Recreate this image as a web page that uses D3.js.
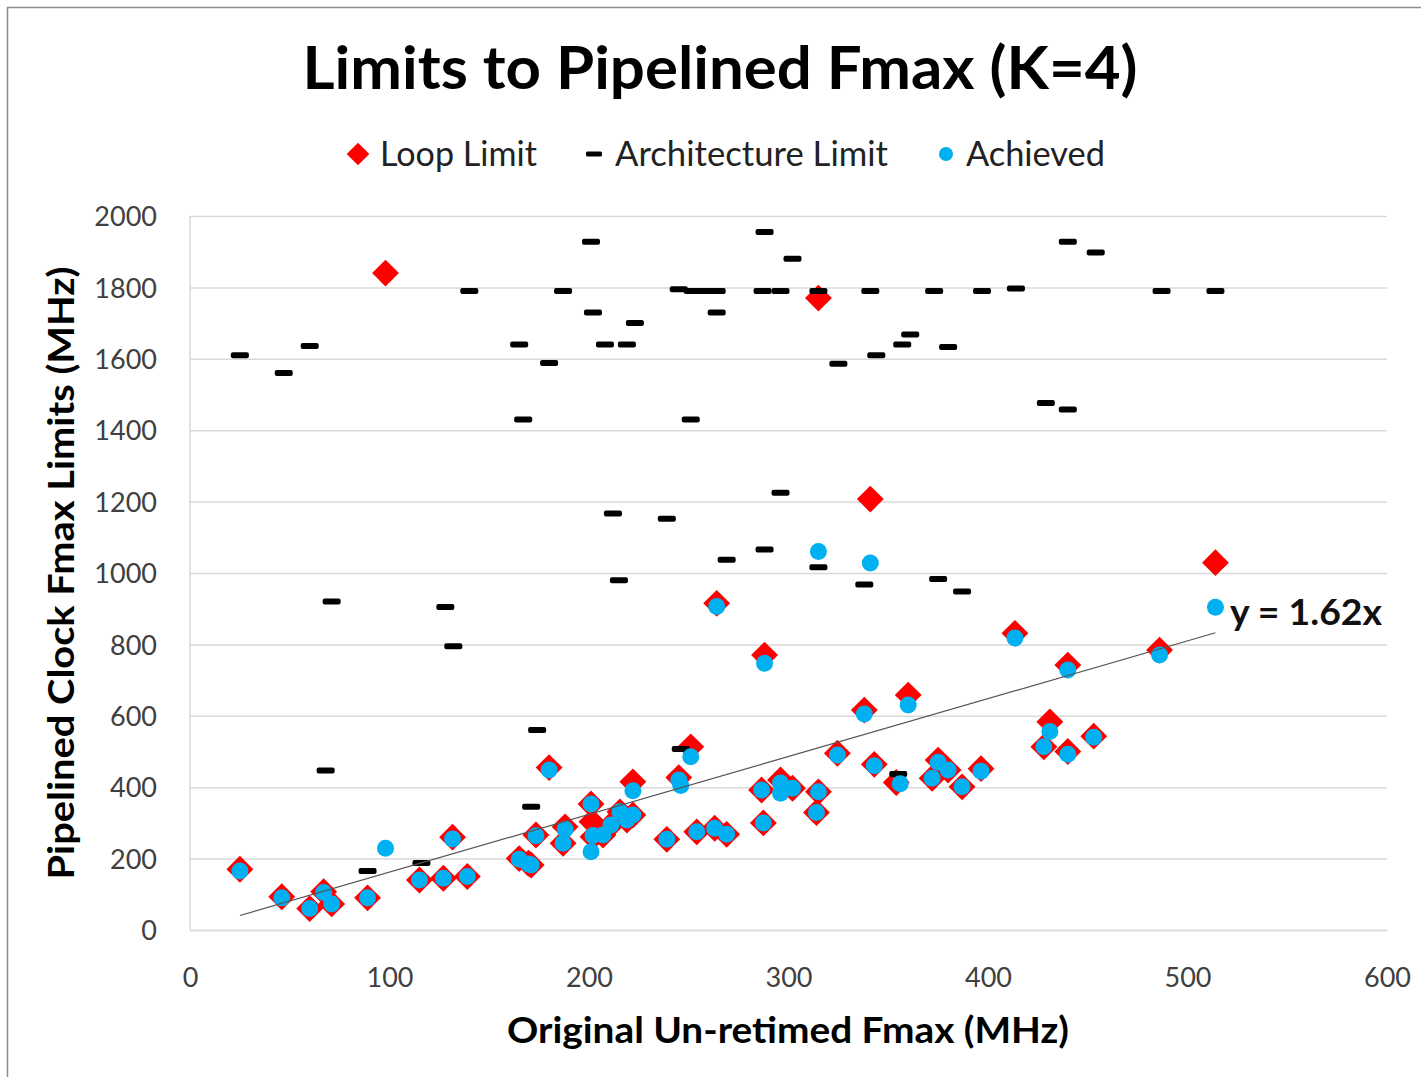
<!DOCTYPE html>
<html>
<head>
<meta charset="utf-8">
<script src="https://cdn.jsdelivr.net/npm/d3@7"></script>
<style>
  html, body { margin: 0; padding: 0; background: #fff; }
  svg { display: block; }
  text { font-family: Lato, "Open Sans", sans-serif; }
</style>
</head>
<body>
<svg id="chart" width="1421" height="1077"></svg>
<script>
// ---- Data ----
const chartTitle = "Limits to Pipelined Fmax (K=4)";
const xTitle = "Original Un-retimed Fmax (MHz)";
const yTitle = "Pipelined Clock Fmax Limits (MHz)";
const seriesNames = ["Loop Limit", "Architecture Limit", "Achieved"];
const xTicks = [0, 100, 200, 300, 400, 500, 600];
const yTicks = [0, 200, 400, 600, 800, 1000, 1200, 1400, 1600, 1800, 2000];
const trendSlope = 1.62;
const trendRange = [25, 514];
const trendLabel = "y = 1.62x";

// Loop Limit: [original Fmax, limit]
const loopLimit = [
  [25,170],[46,93],[60,60],[67,107],[71,73],[89,90],[98,1840],[115,140],[127,145],[139,150],
  [131.6,260],[165,200],[169.6,187],[171,182],[173.4,266],[180,455],[187,243],[188,289],
  [201,353],[201.5,303],[202,261],[207,266],[211,294],[215.5,331],[219,308],[222,322],[222,415],
  [239,254],[245,427],[251,513],[254,275],[263,285],[264,915],[269,268],[286.5,392],[287.4,300],
  [288,770],[296,420],[302,397],[314,329],[315,387],[315,1770],[324.5,495],[338,616],[341,1207],
  [343,464],[354,413],[360,658],[372,425],[375,476],[380,448],[387,401],[396.5,452],[413.5,831],
  [428,513],[431,583],[440,742],[440,500],[453,543],[486,784],[514,1029]
];

// Architecture Limit
const archLimit = [
  [25,1610],[47,1560],[60,1636],[68,447],[71,920],[89,165],[116,188],[128,905],[132,795],
  [140,1790],[165,1640],[167,1430],[171,345],[174,560],[180,1588],[187,1790],[201,1928],
  [202,1730],[208,1640],[212,1167],[215,980],[219,1640],[223,1700],[239,1152],[245,1795],
  [246,507],[251,1430],[252,1790],[258,1790],[264,1790],[264,1730],[269,1037],[287,1790],
  [288,1955],[288,1066],[296,1790],[296,1225],[302,1880],[315,1790],[315,1016],[325,1586],
  [338,968],[341,1790],[344,1610],[355,437],[357,1640],[361,1668],[373,1790],[375,983],
  [380,1633],[387,948],[397,1790],[414,1797],[429,1476],[440,1928],[440,1458],[454,1898],
  [487,1790],[514,1790]
];

// Achieved
const achieved = [
  [25,165],[46,90],[60,60],[67,105],[71,73],[89,90],[98,229],[115,140],[127,145],[139,150],
  [131.6,255],[165,198],[169.6,185],[171,182],[173.4,264],[180,448],[187,243],[188,282],
  [201,353],[201,219],[202,265],[207,266],[211,294],[215.5,331],[219,308],[222,322],[222,390],
  [239,254],[245,420],[246,405],[251,485],[254,275],[263,285],[264,906],[269,268],[286.5,392],
  [287.4,300],[288,747],[296,412],[296,383],[302,397],[314,329],[315,387],[315,1060],[324.5,490],
  [338,605],[341,1028],[343,460],[356,410],[360,630],[372,425],[375,470],[380,448],[387,401],
  [396.5,445],[413.5,818],[428,513],[431,556],[440,728],[440,492],[453,540],[486,770],[514,904]
];

// ---- Layout ----
const svg = d3.select("#chart");
const plot = { left: 190, right: 1387, top: 216, bottom: 930 };
const x = d3.scaleLinear().domain([0, 600]).range([plot.left, plot.right]);
const y = d3.scaleLinear().domain([0, 2000]).range([plot.bottom, plot.top]);

const RED = "#FF0000", BLUE = "#00B0F0", BLACK = "#000000";
const GRID = "#D9D9D9", LABEL = "#404040";

// frame
svg.append("line").attr("x1", 7.5).attr("x2", 7.5).attr("y1", 7).attr("y2", 1077)
  .attr("stroke", "#8c8c8c").attr("stroke-width", 1.5);
svg.append("line").attr("x1", 7).attr("x2", 1421).attr("y1", 7.5).attr("y2", 7.5)
  .attr("stroke", "#8c8c8c").attr("stroke-width", 1.5);

// title
svg.append("text").attr("x", 720).attr("y", 89).attr("text-anchor", "middle")
  .attr("font-size", 60).attr("font-weight", 700).attr("fill", "#000")
  .attr("textLength", 835).attr("lengthAdjust", "spacingAndGlyphs")
  .text(chartTitle);

// gridlines (y axis)
const yAxis = d3.axisLeft(y).tickValues(yTicks).tickSize(-(plot.right - plot.left)).tickPadding(33)
  .tickFormat(d3.format("d"));
const gy = svg.append("g").attr("transform", `translate(${plot.left},0)`).call(yAxis);
gy.select(".domain").remove();
gy.selectAll(".tick line").attr("stroke", GRID).attr("stroke-width", 1.5);
gy.selectAll(".tick text").attr("fill", LABEL).attr("font-size", 27)
  .attr("font-family", "Lato, sans-serif").attr("dy", "0.36em");

// left axis line
svg.append("line").attr("x1", plot.left).attr("x2", plot.left)
  .attr("y1", plot.top).attr("y2", plot.bottom).attr("stroke", GRID).attr("stroke-width", 1.5);

// x axis
const xAxis = d3.axisBottom(x).tickValues(xTicks).tickSize(0).tickPadding(38).tickFormat(d3.format("d"));
const gx = svg.append("g").attr("transform", `translate(0,${plot.bottom})`).call(xAxis);
gx.select(".domain").attr("stroke", GRID).attr("stroke-width", 1.5);
gx.selectAll(".tick text").attr("fill", LABEL).attr("font-size", 27)
  .attr("font-family", "Lato, sans-serif");

// axis titles
svg.append("text").attr("x", 788).attr("y", 1043).attr("text-anchor", "middle")
  .attr("font-size", 36).attr("font-weight", 700).attr("fill", "#000")
  .attr("textLength", 562).attr("lengthAdjust", "spacingAndGlyphs")
  .text(xTitle);
svg.append("text").attr("transform", "translate(74,573) rotate(-90)").attr("text-anchor", "middle")
  .attr("font-size", 36).attr("font-weight", 700).attr("fill", "#000")
  .attr("textLength", 613).attr("lengthAdjust", "spacingAndGlyphs")
  .text(yTitle);

// symbols
const diamond = d3.symbol().type(d3.symbolSquare).size(19 * 19);
const marks = svg.append("g");

// Loop limit diamonds
marks.append("g").selectAll("path").data(loopLimit).join("path")
  .attr("d", diamond)
  .attr("transform", d => `translate(${x(d[0])},${y(d[1])}) rotate(45)`)
  .attr("fill", RED);

// Architecture limit dashes
marks.append("g").selectAll("rect").data(archLimit).join("rect")
  .attr("x", d => x(d[0]) - 9).attr("y", d => y(d[1]) - 3)
  .attr("width", 18).attr("height", 6).attr("rx", 2)
  .attr("fill", BLACK);

// Achieved circles
marks.append("g").selectAll("circle").data(achieved).join("circle")
  .attr("cx", d => x(d[0])).attr("cy", d => y(d[1])).attr("r", 8.5)
  .attr("fill", BLUE);

// trendline
svg.append("line")
  .attr("x1", x(trendRange[0])).attr("y1", y(trendSlope * trendRange[0]))
  .attr("x2", x(trendRange[1])).attr("y2", y(trendSlope * trendRange[1]))
  .attr("stroke", "#555").attr("stroke-width", 1.2);
svg.append("text").attr("x", 1230).attr("y", 625)
  .attr("font-size", 36).attr("font-weight", 700).attr("fill", "#111")
  .attr("textLength", 152).attr("lengthAdjust", "spacingAndGlyphs")
  .text(trendLabel);

// legend
const legend = svg.append("g");
const legendItems = [
  { name: seriesNames[0], sx: 358, tx: 380, w: 157, kind: "diamond" },
  { name: seriesNames[1], sx: 594, tx: 615, w: 273, kind: "dash" },
  { name: seriesNames[2], sx: 946, tx: 966, w: 139, kind: "circle" }
];
const ly = 154;
legendItems.forEach(it => {
  if (it.kind === "diamond") {
    legend.append("path").attr("d", d3.symbol().type(d3.symbolSquare).size(16 * 16))
      .attr("transform", `translate(${it.sx},${ly}) rotate(45)`).attr("fill", RED);
  } else if (it.kind === "dash") {
    legend.append("rect").attr("x", it.sx - 8).attr("y", ly - 2.5).attr("width", 16).attr("height", 5)
      .attr("rx", 1.5).attr("fill", BLACK);
  } else {
    legend.append("circle").attr("cx", it.sx).attr("cy", ly).attr("r", 7).attr("fill", BLUE);
  }
  legend.append("text").attr("x", it.tx).attr("y", ly + 12)
    .attr("font-size", 34).attr("fill", "#222")
    .attr("textLength", it.w).attr("lengthAdjust", "spacingAndGlyphs")
    .text(it.name);
});
</script>
</body>
</html>
